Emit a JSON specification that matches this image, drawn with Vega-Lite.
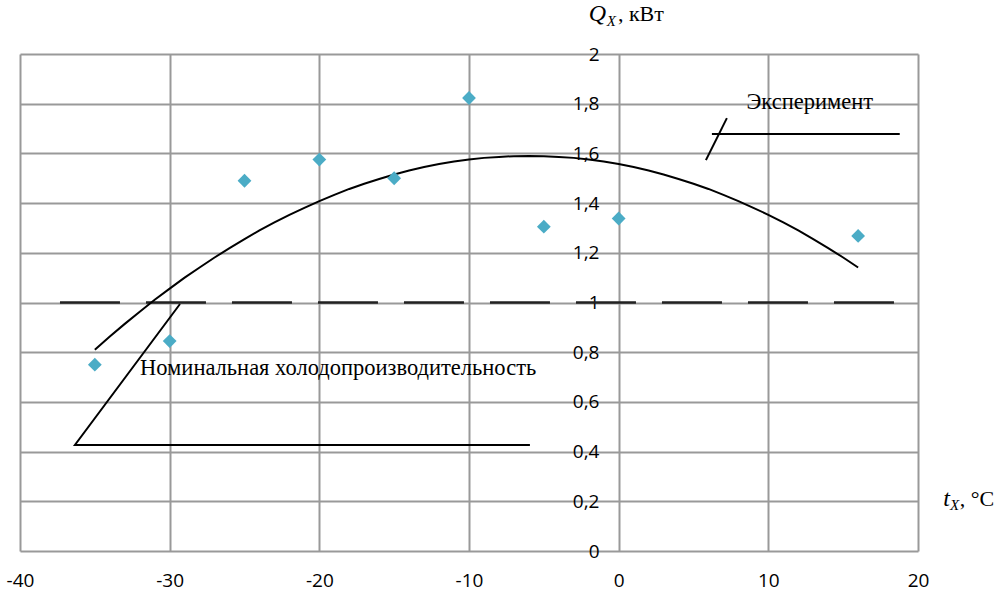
{
  "$schema": "https://vega.github.io/schema/vega-lite/v6.json",
  "width": 898,
  "height": 497,
  "autosize": {"type": "none"},
  "padding": {"left": 20, "top": 54, "right": 82, "bottom": 44},
  "background": "white",
  "config": {
    "view": {"stroke": null},
    "locale": {"number": {"decimal": ",", "thousands": " ", "grouping": [3], "currency": ["", ""], "minus": "-"}},
    "axis": {"labelFont": "Open Sans", "labelFontSize": 19, "labelColor": "#000", "gridColor": "#999", "gridWidth": 2, "domain": false, "ticks": false, "title": null, "labelOverlap": false, "labelFlush": false}
  },
  "datasets": {
    "points": [
      {"t": -35, "q": 0.75}, {"t": -30, "q": 0.845}, {"t": -25, "q": 1.49}, {"t": -20, "q": 1.575},
      {"t": -15, "q": 1.5}, {"t": -10, "q": 1.823}, {"t": -5, "q": 1.305}, {"t": 0, "q": 1.338}, {"t": 16, "q": 1.268}
    ],
    "curve": [
      {"t": -35, "q": 0.81}, {"t": -34, "q": 0.863}, {"t": -33, "q": 0.914}, {"t": -32, "q": 0.963},
      {"t": -31, "q": 1.011}, {"t": -30, "q": 1.056}, {"t": -29, "q": 1.1}, {"t": -28, "q": 1.141},
      {"t": -27, "q": 1.181}, {"t": -26, "q": 1.219}, {"t": -25, "q": 1.255}, {"t": -24, "q": 1.29},
      {"t": -23, "q": 1.322}, {"t": -22, "q": 1.353}, {"t": -21, "q": 1.381}, {"t": -20, "q": 1.408},
      {"t": -19, "q": 1.433}, {"t": -18, "q": 1.457}, {"t": -17, "q": 1.478}, {"t": -16, "q": 1.497},
      {"t": -15, "q": 1.515}, {"t": -14, "q": 1.531}, {"t": -13, "q": 1.545}, {"t": -12, "q": 1.557},
      {"t": -11, "q": 1.567}, {"t": -10, "q": 1.575}, {"t": -9, "q": 1.582}, {"t": -8, "q": 1.586},
      {"t": -7, "q": 1.589}, {"t": -6, "q": 1.59}, {"t": -5, "q": 1.589}, {"t": -4, "q": 1.586},
      {"t": -3, "q": 1.582}, {"t": -2, "q": 1.575}, {"t": -1, "q": 1.567}, {"t": 0, "q": 1.557},
      {"t": 1, "q": 1.545}, {"t": 2, "q": 1.531}, {"t": 3, "q": 1.515}, {"t": 4, "q": 1.497},
      {"t": 5, "q": 1.478}, {"t": 6, "q": 1.457}, {"t": 7, "q": 1.433}, {"t": 8, "q": 1.408},
      {"t": 9, "q": 1.381}, {"t": 10, "q": 1.353}, {"t": 11, "q": 1.322}, {"t": 12, "q": 1.29},
      {"t": 13, "q": 1.255}, {"t": 14, "q": 1.219}, {"t": 15, "q": 1.181}, {"t": 16, "q": 1.141}
    ],
    "nominal": [{"t": -37.33, "q": 1}, {"t": 20, "q": 1}],
    "leaders": [
      {"g": "n", "i": 1, "t": -29.31, "q": 0.994}, {"g": "n", "i": 2, "t": -36.33, "q": 0.427}, {"g": "n", "i": 3, "t": -5.93, "q": 0.427},
      {"g": "e1", "i": 1, "t": 6.23, "q": 1.678}, {"g": "e1", "i": 2, "t": 18.78, "q": 1.678},
      {"g": "e2", "i": 1, "t": 5.83, "q": 1.573}, {"g": "e2", "i": 2, "t": 7.23, "q": 1.742}
    ]
  },
  "layer": [
    {
      "data": {"name": "nominal"},
      "mark": {"type": "line", "color": "#222", "strokeWidth": 2.5, "strokeDash": [60, 26]},
      "encoding": {
        "x": {"field": "t", "type": "quantitative", "scale": {"domain": [-40, 20], "nice": false, "zero": false},
              "axis": {"values": [-40, -30, -20, -10, 0, 10, 20], "format": "d", "labelPadding": 20}},
        "y": {"field": "q", "type": "quantitative", "scale": {"domain": [0, 2], "nice": false},
              "axis": {"values": [0, 0.2, 0.4, 0.6, 0.8, 1, 1.2, 1.4, 1.6, 1.8, 2], "format": ".1~f", "offset": -599, "labelPadding": 20}}
      }
    },
    {
      "data": {"name": "curve"},
      "mark": {"type": "line", "color": "#000", "strokeWidth": 2},
      "encoding": {
        "x": {"field": "t", "type": "quantitative"},
        "y": {"field": "q", "type": "quantitative"}
      }
    },
    {
      "data": {"name": "leaders"},
      "mark": {"type": "line", "color": "#000", "strokeWidth": 2},
      "encoding": {
        "x": {"field": "t", "type": "quantitative"},
        "y": {"field": "q", "type": "quantitative"},
        "detail": {"field": "g", "type": "nominal"},
        "order": {"field": "i", "type": "quantitative"}
      }
    },
    {
      "data": {"name": "points"},
      "mark": {"type": "point", "shape": "diamond", "filled": true, "size": 190, "color": "#4BACC6", "opacity": 1},
      "encoding": {
        "x": {"field": "t", "type": "quantitative"},
        "y": {"field": "q", "type": "quantitative"}
      }
    },
    {
      "data": {"values": [
        {"t": 12.77, "q": 1.807, "label": "Эксперимент"}
      ]},
      "mark": {"type": "text", "font": "Liberation Serif", "fontSize": 22.5, "align": "center", "baseline": "middle", "color": "#000"},
      "encoding": {
        "x": {"field": "t", "type": "quantitative"},
        "y": {"field": "q", "type": "quantitative"},
        "text": {"field": "label"}
      }
    },
    {
      "data": {"values": [
        {"t": -31.98, "q": 0.736, "label": "Номинальная холодопроизводительность"}
      ]},
      "mark": {"type": "text", "font": "Liberation Serif", "fontSize": 22.5, "align": "left", "baseline": "middle", "color": "#000"},
      "encoding": {
        "x": {"field": "t", "type": "quantitative"},
        "y": {"field": "q", "type": "quantitative"},
        "text": {"field": "label"}
      }
    },
    {
      "data": {"values": [
        {"t": -2.0, "q": 2.133, "label": "Q"},
        {"t": 21.68, "q": 0.181, "label": "t"}
      ]},
      "mark": {"type": "text", "font": "Liberation Serif", "fontSize": 24, "fontStyle": "italic", "align": "left", "baseline": "alphabetic", "color": "#000"},
      "encoding": {
        "x": {"field": "t", "type": "quantitative"},
        "y": {"field": "q", "type": "quantitative"},
        "text": {"field": "label"}
      }
    },
    {
      "data": {"values": [
        {"t": -0.8, "q": 2.113, "label": "X"},
        {"t": 22.14, "q": 0.165, "label": "X"}
      ]},
      "mark": {"type": "text", "font": "Liberation Serif", "fontSize": 15, "fontStyle": "italic", "align": "left", "baseline": "alphabetic", "color": "#000"},
      "encoding": {
        "x": {"field": "t", "type": "quantitative"},
        "y": {"field": "q", "type": "quantitative"},
        "text": {"field": "label"}
      }
    },
    {
      "data": {"values": [
        {"t": -0.05, "q": 2.133, "label": ", кВт"},
        {"t": 22.79, "q": 0.181, "label": ", °C"}
      ]},
      "mark": {"type": "text", "font": "Liberation Serif", "fontSize": 22, "align": "left", "baseline": "alphabetic", "color": "#000"},
      "encoding": {
        "x": {"field": "t", "type": "quantitative"},
        "y": {"field": "q", "type": "quantitative"},
        "text": {"field": "label"}
      }
    }
  ]
}
